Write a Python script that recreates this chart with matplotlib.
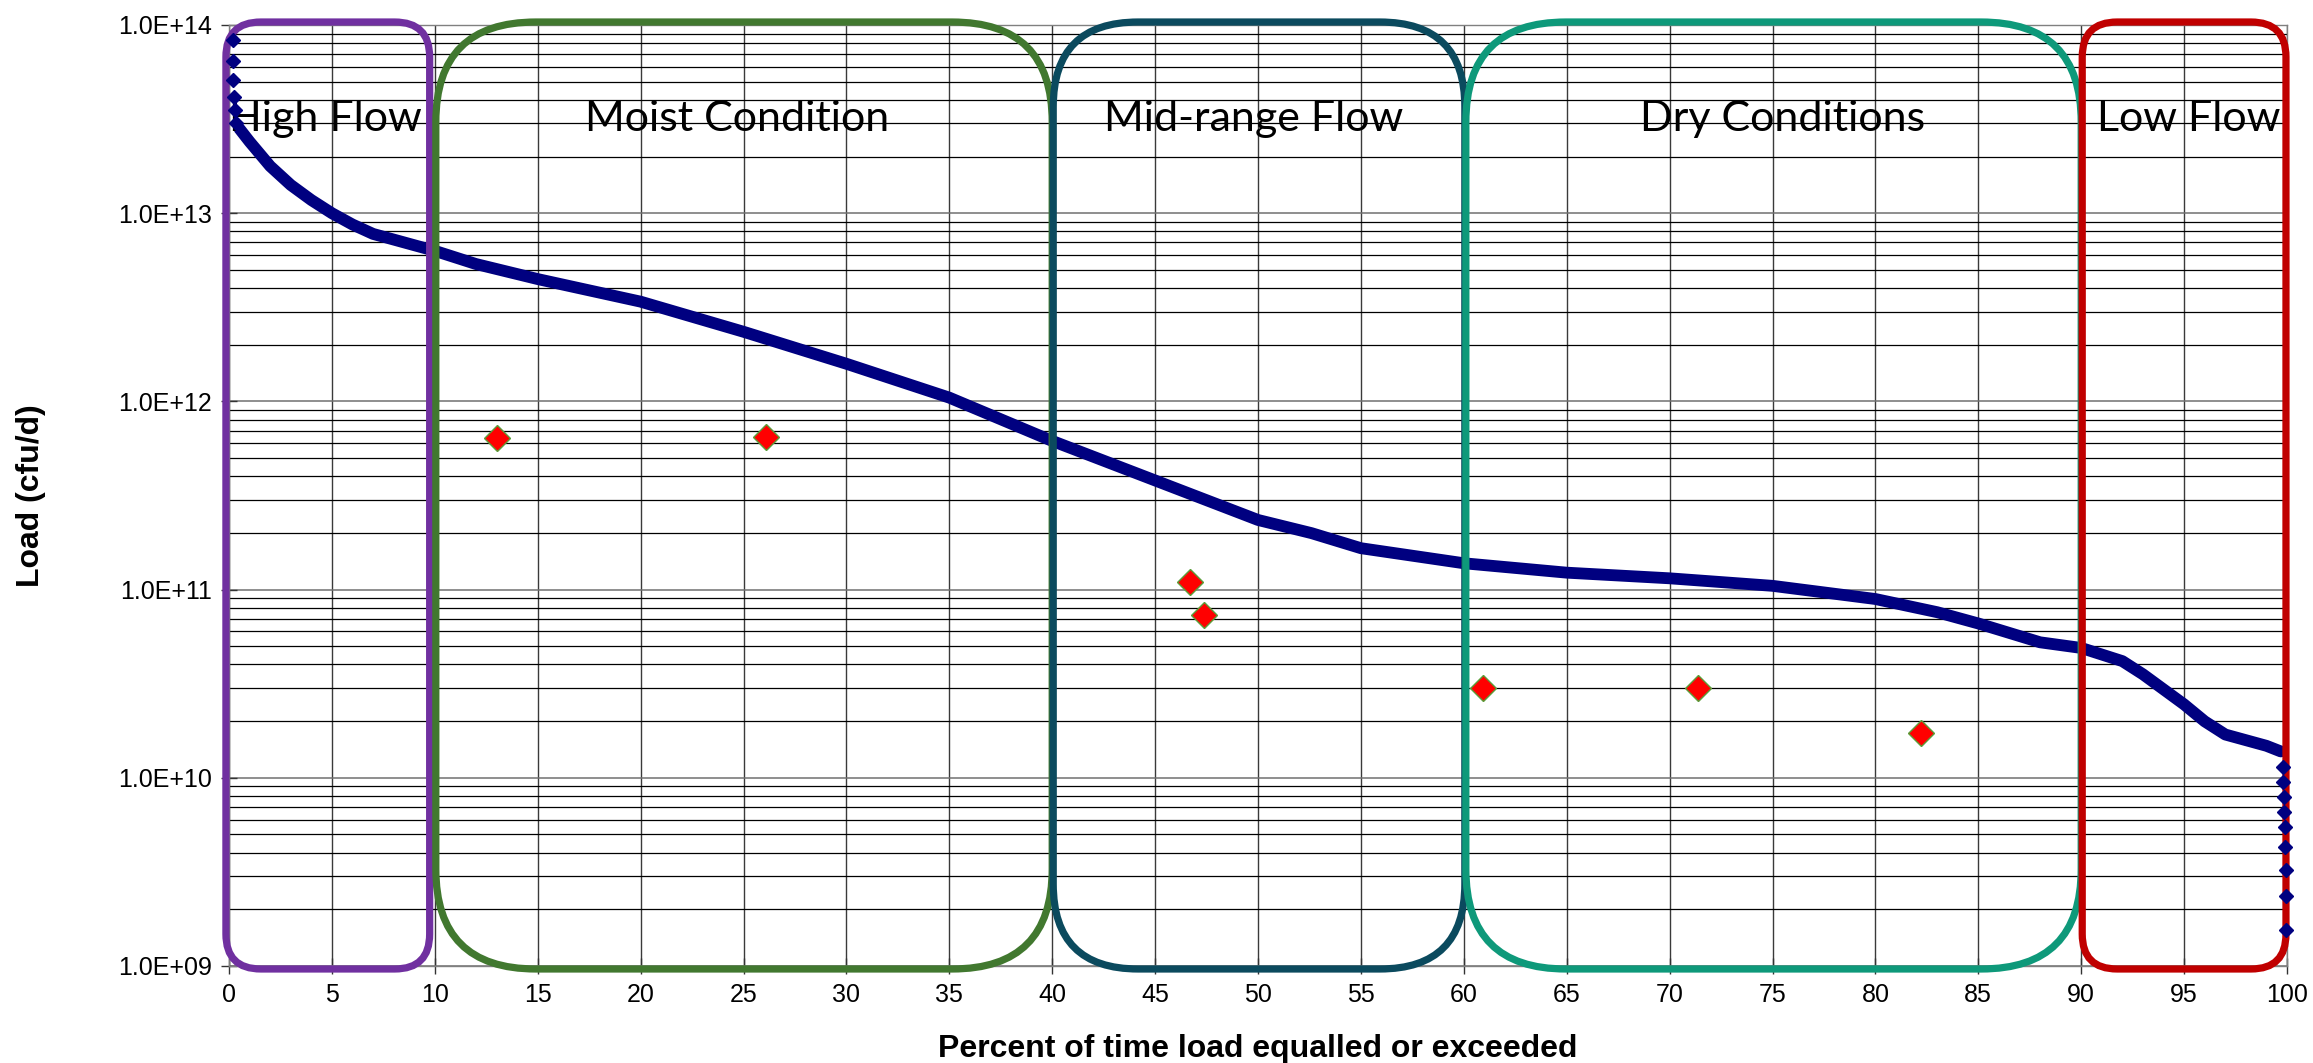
import matplotlib
matplotlib.use("Agg")
import matplotlib.pyplot as plt
from matplotlib.patches import FancyBboxPatch
from matplotlib.ticker import FixedLocator, LogLocator, NullFormatter, FuncFormatter
import numpy as np

# load duration curve (percent exceeded, log10 load)
curve_pct = [0.5, 1, 2, 3, 4, 5, 6, 7, 8, 9, 10, 12, 15, 20, 25, 30, 35, 40, 45,
             50, 52.6, 55, 60, 65, 70, 75, 80, 83, 85, 88, 90, 92, 93, 95, 96, 97,
             98, 99, 99.7]
curve_log = [13.45, 13.38, 13.25, 13.15, 13.07, 13.00, 12.94, 12.89, 12.86, 12.83,
             12.80, 12.73, 12.65, 12.53, 12.37, 12.20, 12.02, 11.79, 11.58, 11.37,
             11.30, 11.22, 11.14, 11.09, 11.06, 11.02, 10.95, 10.88, 10.82, 10.72,
             10.69, 10.62, 10.55, 10.39, 10.30, 10.23, 10.20, 10.17, 10.14]

# isolated points at both ends of the curve
top_pct = [0.2, 0.2, 0.2, 0.25, 0.3, 0.35]
top_log = [13.92, 13.81, 13.71, 13.62, 13.55, 13.48]
tail_pct = [99.8, 99.8, 99.85, 99.85, 99.9, 99.9, 99.95, 99.95, 99.95]
tail_log = [10.06, 9.98, 9.90, 9.82, 9.74, 9.63, 9.51, 9.37, 9.19]

# observed loads
obs_pct = [13.0, 26.1, 46.7, 47.4, 60.95, 71.4, 82.2]
obs_load = [6.4e11, 6.5e11, 1.1e11, 7.3e10, 3.0e10, 3.0e10, 1.74e10]

# flow regime boxes
zone_names = ["High Flow", "Moist Condition", "Mid-range Flow", "Dry Conditions", "Low Flow"]
zone_start = [-0.15, 10.05, 40.05, 60.1, 90.05]
zone_end = [9.75, 40.0, 60.05, 90.0, 99.95]
zone_label_x = [4.7, 24.7, 49.8, 75.5, 95.2]
zone_colors = ["#7030A0", "#41782F", "#0B4A5E", "#0E997A", "#C00000"]
zone_radius_px = [35, 100, 85, 100, 35]

fig = plt.figure(figsize=(23.13, 10.63), dpi=100)
ax = fig.add_axes([229 / 2313, 1 - 966 / 1063, (2287 - 229) / 2313, (966 - 25) / 1063])

ax.set_yscale("log")
ax.set_xlim(0, 100)
ax.set_ylim(1e9, 1e14)

ax.xaxis.set_major_locator(FixedLocator(np.arange(0, 101, 5)))
ax.yaxis.set_major_locator(LogLocator(base=10))
ax.yaxis.set_minor_locator(LogLocator(base=10, subs=np.arange(2, 10)))
ax.yaxis.set_minor_formatter(NullFormatter())
ax.yaxis.set_major_formatter(FuncFormatter(lambda v, p: "1.0E+%02d" % round(np.log10(v))))

ax.grid(True, which="major", axis="x", color="#3a3a3a", lw=1.0)
ax.grid(True, which="major", axis="y", color="#707070", lw=1.1)
ax.grid(True, which="minor", axis="y", color="#000000", lw=0.9)
ax.set_axisbelow(True)

for s in ax.spines.values():
    s.set_color("#808080")
    s.set_linewidth(1.0)

ax.tick_params(axis="both", which="major", direction="inout", length=12, width=1,
               labelsize=18, color="#333333", pad=6)
ax.tick_params(axis="y", which="minor", length=0)
for lab in ax.get_xticklabels() + ax.get_yticklabels():
    lab.set_family("Liberation Sans")

# duration curve
ax.plot(curve_pct, [10 ** v for v in curve_log], color="#000080", lw=8.5,
        solid_capstyle="round", solid_joinstyle="round", zorder=3)
ax.plot(top_pct, [10 ** v for v in top_log], ls="none", marker="D", ms=7,
        color="#000080", zorder=6, clip_on=False)
ax.plot(tail_pct, [10 ** v for v in tail_log], ls="none", marker="D", ms=7,
        color="#000080", zorder=6, clip_on=False)

# boxes, corners kept circular in pixels
W = 2287 - 229
H = 966 - 25
for x0, x1, col, r in zip(zone_start, zone_end, zone_colors, zone_radius_px):
    box = FancyBboxPatch((x0 / 100, -3 / H), (x1 - x0) / 100, 1 + 6 / H,
                         boxstyle="round,pad=0,rounding_size=%f" % (r / W),
                         mutation_aspect=W / H, transform=ax.transAxes,
                         fill=False, ec=col, lw=5.2, clip_on=False, zorder=4)
    ax.add_patch(box)

for name, xc in zip(zone_names, zone_label_x):
    ax.text(xc, 10 ** 13.435, name, ha="center", va="baseline", fontsize=31,
            family="Lato", color="black", zorder=5)

# observations
ax.plot(obs_pct, obs_load, ls="none", marker="D", ms=13.5, mfc="#FF0000",
        mec="#5A9E3A", mew=1, zorder=7)

ax.set_xlabel("Percent of time load equalled or exceeded", fontsize=23,
              fontweight="bold", family="Liberation Sans", labelpad=20)
ax.set_ylabel("Load (cfu/d)", fontsize=23, fontweight="bold",
              family="Liberation Sans", labelpad=52)

fig.savefig("out.png", dpi=100)
